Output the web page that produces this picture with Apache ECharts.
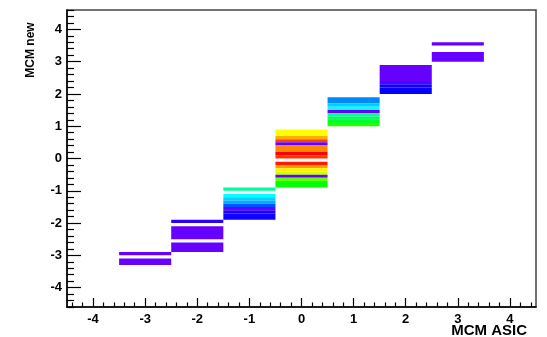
<!DOCTYPE html>
<html>
<head>
<meta charset="utf-8">
<script src="https://cdn.jsdelivr.net/npm/echarts@6/dist/echarts.min.js"></script>
<style>
  html, body { margin: 0; padding: 0; background: #fff; }
  #chart { width: 547px; height: 337px; }
</style>
</head>
<body>
<div id="chart"></div>
<script>
// x bin centres (MCM ASIC), each bin is 1 wide
var xBins = [-3, -2, -1, 0, 1, 2, 3];

// per column: [yLow, yHigh, colour value] in 0.1-wide y bins (merged where equal)
var colM3 = [[-3.0, -2.9, 0], [-3.3, -3.1, 0]];
var colM2 = [[-2.0, -1.9, 0.6], [-2.5, -2.1, 0], [-2.9, -2.6, 0]];
var colM1 = [[-1.0, -0.9, 3.4], [-1.2, -1.1, 3.0], [-1.3, -1.2, 2.6], [-1.4, -1.3, 2.3],
             [-1.5, -1.4, 1.6], [-1.6, -1.5, 0.05], [-1.7, -1.6, 0.75], [-1.9, -1.7, 0.85]];
var col0 = [[0.7, 0.9, 5.0], [0.6, 0.7, 5.7], [0.5, 0.6, 6.5], [0.4, 0.5, 0],
            [0.2, 0.4, 6.0], [0.1, 0.2, 7.0], [0.0, 0.1, 6.6],
            [-0.2, -0.1, 6.8], [-0.3, -0.2, 5.8], [-0.4, -0.3, 5.1], [-0.5, -0.4, 4.8],
            [-0.6, -0.5, 0], [-0.7, -0.6, 4.4], [-0.9, -0.7, 4.0]];
var col1 = [[1.7, 1.9, 2.0], [1.6, 1.7, 2.6], [1.5, 1.6, 3.0], [1.4, 1.5, 0],
            [1.3, 1.4, 3.4], [1.2, 1.3, 3.65], [1.1, 1.2, 3.85], [1.0, 1.1, 4.15]];
var col2 = [[2.4, 2.9, 0], [2.3, 2.4, 0.2], [2.2, 2.3, 0.8], [2.0, 2.2, 0.95]];
var col3 = [[3.5, 3.6, 0], [3.0, 3.3, 0]];
var columns = [colM3, colM2, colM1, col0, col1, col2, col3];

// axis ticks / labels
var xTicks = [-4, -3, -2, -1, 0, 1, 2, 3, 4];
var yTicks = [-4, -3, -2, -1, 0, 1, 2, 3, 4];
var xRange = [-4.5, 4.5];
var yRange = [-4.6, 4.6];

// minor ticks every 0.2 (not on the majors)
function minorTicks(r) {
  var out = [];
  for (var k = Math.ceil(r[0] * 5); k <= Math.floor(r[1] * 5); k++) {
    if (k % 5 !== 0) out.push(k / 5);
  }
  return out;
}

var data = [];
columns.forEach(function (col, i) {
  col.forEach(function (b) { data.push([xBins[i], b[0], b[1], b[2]]); });
});

var labelFont = { fontFamily: 'Liberation Sans', fontWeight: 'bold', fontSize: 13, color: '#000' };

var chart = echarts.init(document.getElementById('chart'));
chart.setOption({
  backgroundColor: '#fff',
  animation: false,
  grid: { left: 67, right: 11, top: 10, bottom: 30, show: true, borderColor: '#444', borderWidth: 1.5, backgroundColor: 'transparent' },
  visualMap: {
    show: false, type: 'continuous', min: 0, max: 7, dimension: 3, seriesIndex: 0,
    inRange: { color: ['#6600ff', '#0000ff', '#0088ff', '#00ffff', '#00ff00', '#ffff00', '#ff8800', '#ff0000'] }
  },
  xAxis: [{
    type: 'value', min: xRange[0], max: xRange[1], position: 'bottom',
    axisLine: { onZero: false, lineStyle: { color: '#000', width: 1.5 } },
    axisTick: { inside: true, length: 9, customValues: xTicks, lineStyle: { color: '#000', width: 1.2 } },
    axisLabel: Object.assign({ customValues: xTicks, margin: 6 }, labelFont),
    splitLine: { show: false }
  }, {
    type: 'value', min: xRange[0], max: xRange[1], position: 'bottom',
    axisLine: { show: false, onZero: false },
    axisTick: { inside: true, length: 4.5, customValues: minorTicks(xRange), lineStyle: { color: '#000', width: 1.2 } },
    axisLabel: { show: false },
    splitLine: { show: false }
  }],
  yAxis: [{
    type: 'value', min: yRange[0], max: yRange[1], position: 'left',
    axisLine: { onZero: false, lineStyle: { color: '#000', width: 1.5 } },
    axisTick: { inside: true, length: 14, customValues: yTicks, lineStyle: { color: '#000', width: 1.2 } },
    axisLabel: Object.assign({ customValues: yTicks, margin: 5 }, labelFont),
    splitLine: { show: false }
  }, {
    type: 'value', min: yRange[0], max: yRange[1], position: 'left',
    axisLine: { show: false, onZero: false },
    axisTick: { inside: true, length: 7, customValues: minorTicks(yRange), lineStyle: { color: '#000', width: 1.2 } },
    axisLabel: { show: false },
    splitLine: { show: false }
  }],
  graphic: [
    { type: 'text', right: 20, top: 323,
      style: { text: 'MCM ASIC', font: 'bold 15px "Liberation Sans"', fill: '#000' } },
    { type: 'text', x: 31, y: 50, rotation: Math.PI / 2,
      style: { text: 'MCM new', font: 'bold 12px "Liberation Sans"', fill: '#000', align: 'center', verticalAlign: 'middle' } }
  ],
  series: [{
    type: 'custom',
    xAxisIndex: 0, yAxisIndex: 0,
    encode: { x: 0, y: [1, 2] },
    data: data,
    renderItem: function (params, api) {
      var x = api.value(0), y0 = api.value(1), y1 = api.value(2);
      var p0 = api.coord([x - 0.5, y1]);
      var p1 = api.coord([x + 0.5, y0]);
      return {
        type: 'rect',
        shape: { x: p0[0], y: p0[1], width: p1[0] - p0[0], height: p1[1] - p0[1] },
        style: { fill: api.visual('color') }
      };
    }
  }]
});
</script>
</body>
</html>
